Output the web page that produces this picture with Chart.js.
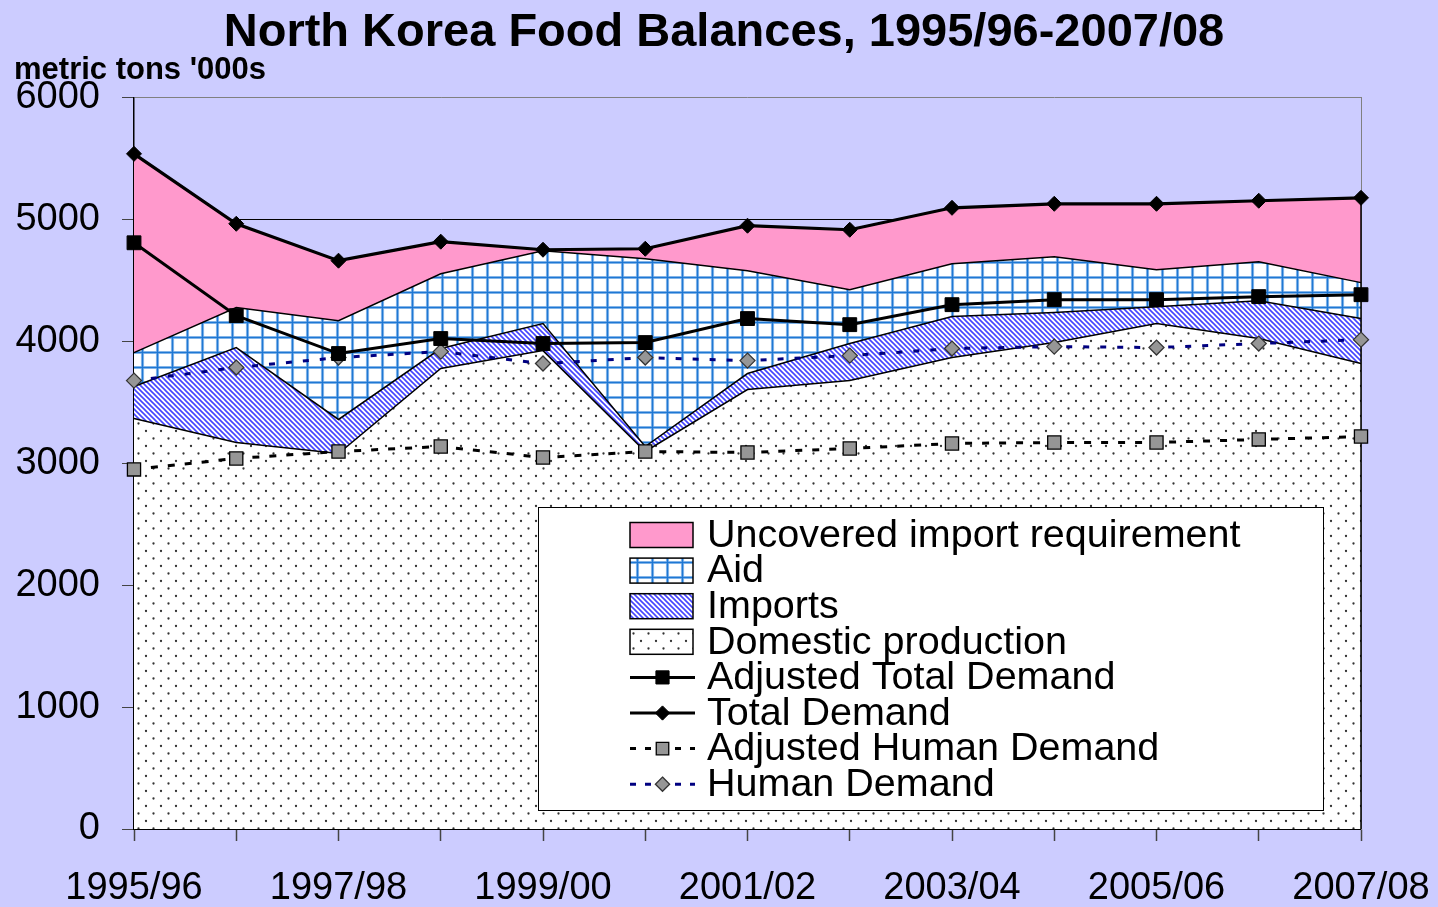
<!DOCTYPE html>
<html>
<head>
<meta charset="utf-8">
<script src="https://cdn.jsdelivr.net/npm/chart.js@4.4.1/dist/chart.umd.min.js"></script>
<style>
html,body{margin:0;padding:0;background:#CCCCFF;overflow:hidden;}
canvas{display:block;}
</style>
</head>
<body>
<canvas id="c" width="1438" height="907"></canvas>
<script>
// ---- data (metric tons '000s) ----
const categories = ['1995/96','1996/97','1997/98','1998/99','1999/00','2000/01','2001/02',
                    '2002/03','2003/04','2004/05','2005/06','2006/07','2007/08'];
const xTickLabels = ['1995/96','','1997/98','','1999/00','','2001/02','','2003/04','','2005/06','','2007/08'];

const domesticProduction = [3369, 3172, 3082, 3779, 3926, 3098, 3607, 3680, 3869, 3992, 4148, 4025, 3820];
const imports            = [ 262,  779,  279,  164,  222,   41,  131,  304,  336,  246,  139,  311,  369];
const aid                = [ 279,  328,  811,  614,  598, 1541,  844,  442,  434,  459,  303,  320,  295];
const uncoveredImportReq = [1631,  688,  492,  263,    8,   82,  369,  492,  459,  434,  541,  500,  696];

const totalDemand         = [5541, 4967, 4664, 4820, 4754, 4762, 4951, 4918, 5098, 5131, 5131, 5156, 5180];
const adjustedTotalDemand = [4811, 4213, 3902, 4025, 3984, 3992, 4189, 4139, 4303, 4344, 4344, 4369, 4385];
const humanDemand         = [3680, 3787, 3869, 3918, 3820, 3869, 3844, 3885, 3943, 3959, 3951, 3984, 4016];
const adjustedHumanDemand = [2951, 3041, 3098, 3139, 3049, 3098, 3090, 3123, 3164, 3172, 3172, 3197, 3221];

const legendOrder = ['Uncovered import requirement','Aid','Imports','Domestic production',
                     'Adjusted Total Demand','Total Demand','Adjusted Human Demand','Human Demand'];

const FONT = "'Liberation Sans', Arial, Helvetica, sans-serif";

// ---- fill patterns ----
function makePattern(size, draw) {
  const cv = document.createElement('canvas');
  cv.width = size; cv.height = size;
  const g = cv.getContext('2d');
  g.fillStyle = '#ffffff'; g.fillRect(0, 0, size, size);
  draw(g, size);
  return document.getElementById('c').getContext('2d').createPattern(cv, 'repeat');
}
const dotPattern = makePattern(15, (g) => {
  g.fillStyle = '#333333';
  g.beginPath(); g.arc(3.5, 3.5, 1.15, 0, Math.PI * 2); g.fill();
  g.beginPath(); g.arc(11, 11, 1.15, 0, Math.PI * 2); g.fill();
});
const gridPattern = makePattern(15, (g, s) => {
  g.strokeStyle = 'rgba(30,120,214,0.4)'; g.lineWidth = 3.2;
  g.beginPath(); g.moveTo(7.5, 0); g.lineTo(7.5, s); g.moveTo(0, 7.5); g.lineTo(s, 7.5); g.stroke();
  g.strokeStyle = '#1f78d4'; g.lineWidth = 1.6;
  g.beginPath(); g.moveTo(7.5, 0); g.lineTo(7.5, s); g.moveTo(0, 7.5); g.lineTo(s, 7.5); g.stroke();
});
const hatchPattern = makePattern(5, (g, s) => {
  g.strokeStyle = '#4545ff'; g.lineWidth = 1.6;
  g.beginPath();
  g.moveTo(-1, -1); g.lineTo(s + 1, s + 1);
  g.moveTo(-1, s - 1); g.lineTo(1, s + 1);
  g.moveTo(s - 1, -1); g.lineTo(s + 1, 1);
  g.stroke();
});

// ---- marker helper for legend ----
function drawMarker(c, style, r, x, y) {
  c.beginPath();
  if (style === 'rectRot') {
    c.moveTo(x, y - r); c.lineTo(x + r, y); c.lineTo(x, y + r); c.lineTo(x - r, y); c.closePath();
  } else {
    const h = r * Math.SQRT1_2;
    c.rect(x - h, y - h, 2 * h, 2 * h);
  }
  c.fill(); c.stroke();
}

// ---- plugins ----
const boxLegend = {
  id: 'boxLegend',
  afterDraw(chart, args, o) {
    const c = chart.ctx;
    c.save();
    c.fillStyle = '#ffffff';
    c.fillRect(o.x, o.y, o.w, o.h);
    c.strokeStyle = '#000'; c.lineWidth = 1;
    c.strokeRect(o.x + 0.5, o.y + 0.5, o.w, o.h);
    c.font = o.fontSize + 'px ' + FONT;
    c.textBaseline = 'middle';
    legendOrder.forEach((label, k) => {
      const ds = chart.data.datasets.find(d => d.label === label);
      const cy = o.firstRow + k * o.rowGap;
      if (ds.fill !== false) {
        c.fillStyle = ds.backgroundColor;
        c.fillRect(o.sx, cy - 12.5, o.sw, 25);
        c.setLineDash([]);
        c.strokeStyle = '#000'; c.lineWidth = 1.5;
        c.strokeRect(o.sx, cy - 12.5, o.sw, 25);
      } else {
        c.strokeStyle = ds.borderColor;
        c.lineWidth = ds.borderWidth;
        c.setLineDash(ds.borderDash ? [6, 9] : []);
        c.beginPath(); c.moveTo(o.sx, cy); c.lineTo(o.sx + o.sw + 2, cy); c.stroke();
        c.setLineDash([]);
        c.fillStyle = ds.pointBackgroundColor;
        c.strokeStyle = ds.pointBorderColor;
        c.lineWidth = ds.pointBorderWidth;
        drawMarker(c, ds.pointStyle, ds.pointRadius * 0.95, o.sx + o.sw / 2 + 1, cy);
      }
      c.fillStyle = '#000';
      c.fillText(label, o.tx, cy + 1);
    });
    c.restore();
  }
};

const edgeLine = {
  id: 'edgeLine',
  afterDatasetDraw(chart, args) {
    if (chart.data.datasets[args.index].label !== 'Domestic production') return;
    const c = chart.ctx, a = chart.chartArea;
    const n = categories.length - 1;
    const x = chart.scales.x.getPixelForValue(n);
    const y = chart.scales.y.getPixelForValue(totalDemand[n]);
    c.save();
    c.strokeStyle = '#000'; c.lineWidth = 1.5;
    c.beginPath(); c.moveTo(x, y); c.lineTo(x, a.bottom); c.stroke();
    c.restore();
  }
};

// ---- chart ----
const areaBase = { borderColor: '#000', borderWidth: 1.5, pointRadius: 0, pointHoverRadius: 0, stack: 'supply', tension: 0 };

new Chart(document.getElementById('c'), {
  type: 'line',
  data: {
    labels: categories,
    datasets: [
      { label: 'Total Demand', data: totalDemand, stack: 'td', fill: false,
        borderColor: '#000', borderWidth: 3.2, pointStyle: 'rectRot', pointRadius: 7.5,
        pointBackgroundColor: '#000', pointBorderColor: '#000', pointBorderWidth: 1, clip: false },
      { label: 'Adjusted Total Demand', data: adjustedTotalDemand, stack: 'atd', fill: false,
        borderColor: '#000', borderWidth: 3, pointStyle: 'rect', pointRadius: 9.8,
        pointBackgroundColor: '#000', pointBorderColor: '#000', pointBorderWidth: 1, clip: false },
      { label: 'Adjusted Human Demand', data: adjustedHumanDemand, stack: 'ahd', fill: false,
        borderColor: '#000', borderWidth: 3, borderDash: [7, 10], pointStyle: 'rect', pointRadius: 9.3,
        pointBackgroundColor: '#969696', pointBorderColor: '#000', pointBorderWidth: 1.3, clip: false },
      { label: 'Human Demand', data: humanDemand, stack: 'hd', fill: false,
        borderColor: '#000080', borderWidth: 3, borderDash: [6, 11], pointStyle: 'rectRot', pointRadius: 7.5,
        pointBackgroundColor: '#969696', pointBorderColor: '#333', pointBorderWidth: 1.3, clip: false },
      Object.assign({ label: 'Domestic production', data: domesticProduction, fill: 'origin', backgroundColor: dotPattern }, areaBase),
      Object.assign({ label: 'Imports', data: imports, fill: '-1', backgroundColor: hatchPattern }, areaBase),
      Object.assign({ label: 'Aid', data: aid, fill: '-1', backgroundColor: gridPattern }, areaBase),
      Object.assign({ label: 'Uncovered import requirement', data: uncoveredImportReq, fill: '-1', backgroundColor: '#FF99CC' }, areaBase)
    ]
  },
  options: {
    responsive: false,
    animation: false,
    devicePixelRatio: 1,
    layout: { padding: { left: 14, right: 4, top: 0, bottom: 0 } },
    interaction: { mode: 'nearest', intersect: true },
    plugins: {
      legend: { display: false },
      tooltip: { enabled: false },
      title: {
        display: true, text: 'North Korea Food Balances, 1995/96-2007/08', color: '#000',
        font: { family: FONT, size: 47, weight: 'bold', lineHeight: 1.0 },
        padding: { top: 10, bottom: 0 }
      },
      subtitle: {
        display: true, text: "metric tons '000s", align: 'start', color: '#000',
        font: { family: FONT, size: 31, weight: 'bold', lineHeight: 0.9 },
        padding: { top: 0, bottom: 13 }
      },
      boxLegend: { x: 538, y: 507, w: 785, h: 303, sx: 630, sw: 63, tx: 707, firstRow: 535, rowGap: 35.6, fontSize: 39.5 }
    },
    scales: {
      x: {
        type: 'category', offset: false,
        grid: { drawOnChartArea: false, drawTicks: true, tickLength: 12, tickColor: '#444', tickWidth: 1.5 },
        border: { color: '#000', width: 1.5 },
        ticks: { autoSkip: false, maxRotation: 0, minRotation: 0, padding: 25, color: '#000',
                 font: { family: FONT, size: 38 },
                 callback: (v, i) => xTickLabels[i] },
        afterFit: s => { s.height = 78; s.paddingRight = 0; s.paddingLeft = 0; }
      },
      y: {
        stacked: true, min: 0, max: 6000,
        grid: { color: c => (c.tick && c.tick.value === 6000 ? '#808080' : '#000'), lineWidth: 1,
                drawTicks: true, tickLength: 12, tickColor: '#444' },
        border: { color: '#000', width: 1.5 },
        ticks: { stepSize: 1000, padding: 22, color: '#000', font: { family: FONT, size: 38 },
                 callback: v => String(v) },
        afterFit: s => { s.width = 120; }
      },
      y2: {
        position: 'right', min: 0, max: 6000,
        grid: { drawOnChartArea: false, drawTicks: false },
        border: { color: '#808080', width: 1 },
        ticks: { display: false },
        afterFit: s => { s.width = 73; }
      }
    }
  },
  plugins: [boxLegend, edgeLine]
});
</script>
</body>
</html>
